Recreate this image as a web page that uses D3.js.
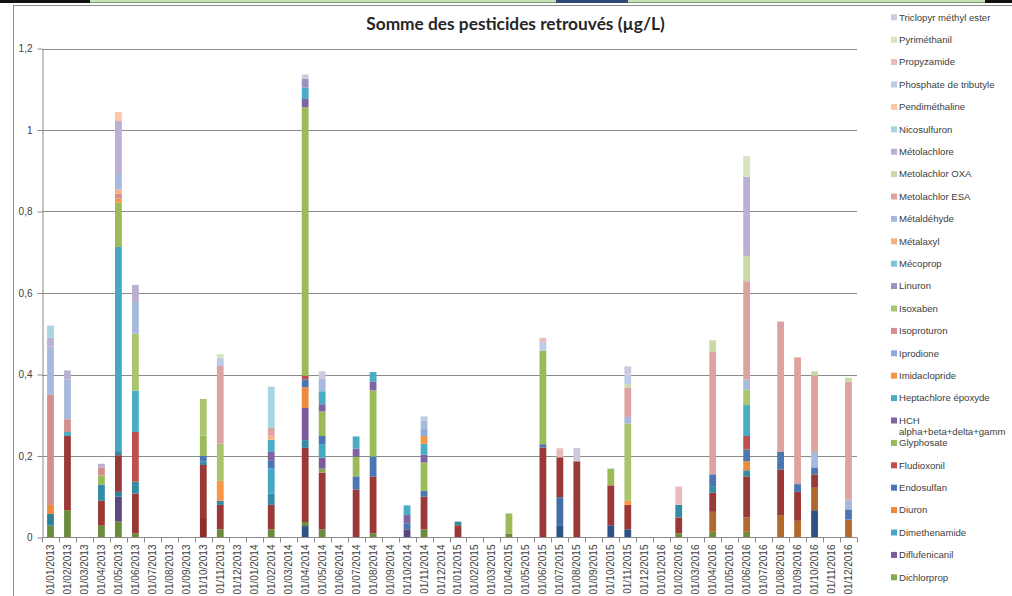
<!DOCTYPE html>
<html><head><meta charset="utf-8">
<script src="https://cdn.jsdelivr.net/npm/d3@7"></script>
<style>
html,body{margin:0;padding:0;background:#fff;overflow:hidden}
svg{display:block;font-family:Lato,"Liberation Sans",sans-serif}
</style></head><body>
<svg id="chart" width="1012" height="596"></svg>
<script>
const chartTitle = "Somme des pesticides retrouvés (µg/L)";
const categories = [
 "01/01/2013","01/02/2013","01/03/2013","01/04/2013","01/05/2013","01/06/2013","01/07/2013","01/08/2013","01/09/2013","01/10/2013","01/11/2013","01/12/2013",
 "01/01/2014","01/02/2014","01/03/2014","01/04/2014","01/05/2014","01/06/2014","01/07/2014","01/08/2014","01/09/2014","01/10/2014","01/11/2014","01/12/2014",
 "01/01/2015","01/02/2015","01/03/2015","01/04/2015","01/05/2015","01/06/2015","01/07/2015","01/08/2015","01/09/2015","01/10/2015","01/11/2015","01/12/2015",
 "01/01/2016","01/02/2016","01/03/2016","01/04/2016","01/05/2016","01/06/2016","01/07/2016","01/08/2016","01/09/2016","01/10/2016","01/11/2016","01/12/2016"];
// stacking order (bottom first); legend lists them in reverse
const seriesNames = [
 "2,4-D","2,4-MCPA","AMPA","Aclonifène","Atrazine","Azoxystrobine","Bentazone","Boscalid","Chlortoluron",
 "Dichlorprop","Diflufenicanil","Dimethenamide","Diuron","Endosulfan","Fludioxonil","Glyphosate",
 "HCH alpha+beta+delta+gamm","Heptachlore époxyde","Imidaclopride","Iprodione","Isoproturon","Isoxaben",
 "Linuron","Mécoprop","Métalaxyl","Métaldéhyde","Metolachlor ESA","Metolachlor OXA","Métolachlore",
 "Nicosulfuron","Pendiméthaline","Phosphate de tributyle","Propyzamide","Pyriméthanil","Triclopyr méthyl ester"];
const seriesColors = [
 "#2E5283","#4470A8","#6B8C3A","#5D477D","#2F8199","#B4692C","#8B2E2C","#9A3936","#338CA3",
 "#86A94C","#7A5C9C","#46A7C2","#EE8A3C","#4A77B4","#C0504D","#9BBB59",
 "#8064A2","#4BACC6","#F79646","#8EA9DB","#D48E8C","#A9C56E",
 "#A090BF","#7EC3D6","#F9B07F","#A7B9DD","#DDA3A2","#C9DAA6","#BBAFD2",
 "#A8D5E2","#FBC8A6","#BCCBE6","#E8BCBB","#D8E4C0","#CFC7DD"];
const yTicks = [0,0.2,0.4,0.6,0.8,1,1.2];
// [category index, series, value µg/L]
const measurements = [
 [0,"AMPA",0.029],[0,"Atrazine",0.029],[0,"Diuron",0.022],[0,"Isoproturon",0.27],[0,"Métaldéhyde",0.119],[0,"Métolachlore",0.021],[0,"Nicosulfuron",0.03],
 [1,"AMPA",0.067],[1,"Boscalid",0.182],[1,"Heptachlore époxyde",0.01],[1,"Isoproturon",0.031],[1,"Métaldéhyde",0.098],[1,"Métolachlore",0.022],
 [3,"AMPA",0.029],[3,"Boscalid",0.061],[3,"Chlortoluron",0.04],[3,"Glyphosate",0.022],[3,"Isoproturon",0.019],[3,"Métolachlore",0.01],
 [4,"AMPA",0.039],[4,"Aclonifène",0.061],[4,"Atrazine",0.012],[4,"Boscalid",0.09],[4,"Chlortoluron",0.01],[4,"Dimethenamide",0.501],[4,"Glyphosate",0.109],[4,"Imidaclopride",0.01],[4,"Isoproturon",0.012],[4,"Métalaxyl",0.01],[4,"Métaldéhyde",0.038],[4,"Métolachlore",0.13],[4,"Pendiméthaline",0.022],
 [5,"AMPA",0.01],[5,"Boscalid",0.098],[5,"Chlortoluron",0.029],[5,"Fludioxonil",0.122],[5,"Heptachlore époxyde",0.101],[5,"Isoxaben",0.14],[5,"Métaldéhyde",0.078],[5,"Métolachlore",0.042],
 [9,"Bentazone",0.05],[9,"Boscalid",0.128],[9,"Chlortoluron",0.009],[9,"Endosulfan",0.013],[9,"Glyphosate",0.05],[9,"Isoxaben",0.09],
 [10,"AMPA",0.02],[10,"Boscalid",0.06],[10,"Chlortoluron",0.01],[10,"Imidaclopride",0.049],[10,"Isoxaben",0.091],[10,"Metolachlor ESA",0.191],[10,"Phosphate de tributyle",0.019],[10,"Pyriméthanil",0.01],
 [13,"AMPA",0.02],[13,"Boscalid",0.06],[13,"Chlortoluron",0.028],[13,"Dimethenamide",0.062],[13,"Endosulfan",0.018],[13,"HCH alpha+beta+delta+gamm",0.022],[13,"Heptachlore époxyde",0.03],[13,"Métalaxyl",0.01],[13,"Metolachlor ESA",0.019],[13,"Nicosulfuron",0.101],
 [15,"2,4-D",0.028],[15,"AMPA",0.01],[15,"Boscalid",0.182],[15,"Chlortoluron",0.019],[15,"Diflufenicanil",0.079],[15,"Diuron",0.051],[15,"Endosulfan",0.019],[15,"Fludioxonil",0.009],[15,"Glyphosate",0.659],[15,"HCH alpha+beta+delta+gamm",0.02],[15,"Heptachlore époxyde",0.028],[15,"Linuron",0.022],[15,"Triclopyr méthyl ester",0.01],
 [16,"AMPA",0.02],[16,"Boscalid",0.139],[16,"Dichlorprop",0.01],[16,"Diflufenicanil",0.027],[16,"Dimethenamide",0.033],[16,"Endosulfan",0.02],[16,"Glyphosate",0.06],[16,"HCH alpha+beta+delta+gamm",0.018],[16,"Heptachlore époxyde",0.032],[16,"Métaldéhyde",0.031],[16,"Triclopyr méthyl ester",0.018],
 [18,"Boscalid",0.118],[18,"Endosulfan",0.032],[18,"Glyphosate",0.048],[18,"HCH alpha+beta+delta+gamm",0.02],[18,"Heptachlore époxyde",0.03],
 [19,"AMPA",0.01],[19,"Boscalid",0.14],[19,"Endosulfan",0.049],[19,"Glyphosate",0.162],[19,"HCH alpha+beta+delta+gamm",0.021],[19,"Heptachlore époxyde",0.024],
 [21,"Aclonifène",0.02],[21,"Endosulfan",0.015],[21,"HCH alpha+beta+delta+gamm",0.02],[21,"Heptachlore époxyde",0.024],
 [22,"AMPA",0.02],[22,"Boscalid",0.08],[22,"Endosulfan",0.014],[22,"Glyphosate",0.07],[22,"HCH alpha+beta+delta+gamm",0.019],[22,"Heptachlore époxyde",0.027],[22,"Imidaclopride",0.019],[22,"Iprodione",0.017],[22,"Métaldéhyde",0.02],[22,"Phosphate de tributyle",0.011],
 [24,"Boscalid",0.03],[24,"Chlortoluron",0.009],
 [27,"AMPA",0.01],[27,"Glyphosate",0.049],
 [29,"Boscalid",0.221],[29,"Endosulfan",0.008],[29,"Glyphosate",0.229],[29,"Phosphate de tributyle",0.022],[29,"Propyzamide",0.01],
 [30,"2,4-D",0.03],[30,"2,4-MCPA",0.069],[30,"Boscalid",0.098],[30,"Propyzamide",0.022],
 [31,"Boscalid",0.187],[31,"Triclopyr méthyl ester",0.033],
 [33,"2,4-D",0.03],[33,"Boscalid",0.098],[33,"Glyphosate",0.041],
 [34,"2,4-D",0.02],[34,"Boscalid",0.06],[34,"Imidaclopride",0.01],[34,"Isoxaben",0.19],[34,"Métaldéhyde",0.016],[34,"Metolachlor ESA",0.071],[34,"Metolachlor OXA",0.009],[34,"Phosphate de tributyle",0.024],[34,"Triclopyr méthyl ester",0.02],
 [37,"AMPA",0.01],[37,"Boscalid",0.039],[37,"Chlortoluron",0.031],[37,"Propyzamide",0.045],
 [39,"AMPA",0.014],[39,"Azoxystrobine",0.049],[39,"Boscalid",0.047],[39,"Chlortoluron",0.016],[39,"Endosulfan",0.029],[39,"Metolachlor ESA",0.30],[39,"Metolachlor OXA",0.029],
 [41,"AMPA",0.014],[41,"Azoxystrobine",0.035],[41,"Boscalid",0.101],[41,"Chlortoluron",0.015],[41,"Diuron",0.022],[41,"Endosulfan",0.029],[41,"Fludioxonil",0.033],[41,"Heptachlore époxyde",0.076],[41,"Isoxaben",0.038],[41,"Métaldéhyde",0.025],[41,"Metolachlor ESA",0.241],[41,"Metolachlor OXA",0.062],[41,"Métolachlore",0.194],[41,"Pyriméthanil",0.051],
 [43,"Azoxystrobine",0.055],[43,"Boscalid",0.112],[43,"Endosulfan",0.043],[43,"Metolachlor ESA",0.32],
 [44,"Azoxystrobine",0.041],[44,"Boscalid",0.071],[44,"Endosulfan",0.019],[44,"Metolachlor ESA",0.311],
 [45,"2,4-D",0.067],[45,"Azoxystrobine",0.055],[45,"Boscalid",0.033],[45,"Endosulfan",0.017],[45,"Métaldéhyde",0.038],[45,"Metolachlor ESA",0.187],[45,"Metolachlor OXA",0.011],
 [47,"Azoxystrobine",0.044],[47,"Endosulfan",0.025],[47,"Métaldéhyde",0.024],[47,"Metolachlor ESA",0.289],[47,"Metolachlor OXA",0.01]
];

const rows = categories.map(c => { const r = {category:c}; seriesNames.forEach(s => r[s] = 0); return r; });
measurements.forEach(([i,s,v]) => { rows[i][s] += v; });
const layers = d3.stack().keys(seriesNames)(rows);
const color = d3.scaleOrdinal().domain(seriesNames).range(seriesColors);

const W = 1012, H = 596;
const svg = d3.select("#chart");
const plot = {left:42, right:857, top:48.5, bottom:537.5};
const x = d3.scaleBand().domain(categories).range([plot.left, plot.right]).paddingInner(0.6).paddingOuter(0.3);
const y = d3.scaleLinear().domain([0,1.2]).range([plot.bottom, plot.top]);
const fr = d3.formatLocale({decimal:",",thousands:" ",grouping:[3],currency:["","€"]}).format("~g");

// window decorations (spreadsheet strip at top)
svg.append("rect").attr("x",0).attr("y",0).attr("width",W).attr("height",3).attr("fill","#111");
svg.append("rect").attr("x",90).attr("y",0).attr("width",895).attr("height",2.5).attr("fill","#c9dfb5");
svg.append("rect").attr("x",90).attr("y",2).attr("width",895).attr("height",1).attr("fill","#7fa35f");
svg.append("rect").attr("x",556).attr("y",0).attr("width",72).attr("height",3).attr("fill","#2b4a78");
// chart area border
svg.append("line").attr("x1",13.5).attr("x2",13.5).attr("y1",5).attr("y2",H).attr("stroke","#8c8c8c");
svg.append("line").attr("x1",13).attr("x2",W).attr("y1",5.5).attr("y2",5.5).attr("stroke","#8c8c8c");

// gridlines
svg.append("g").selectAll("line").data(yTicks.filter(t => t > 0)).join("line")
  .attr("x1",plot.left).attr("x2",plot.right)
  .attr("y1",d => Math.round(y(d))+0.5).attr("y2",d => Math.round(y(d))+0.5)
  .attr("stroke","#8a8a8a").attr("stroke-width",1);

// bars
svg.append("g").selectAll("g").data(layers).join("g")
  .attr("fill", d => color(d.key))
  .selectAll("rect").data(d => d.filter(p => p[1] - p[0] > 0)).join("rect")
  .attr("x", d => x(d.data.category))
  .attr("width", x.bandwidth())
  .attr("y", d => y(d[1]))
  .attr("height", d => y(d[0]) - y(d[1]));

// y axis
const yAxis = svg.append("g").attr("transform",`translate(${plot.left+0.5},0)`)
  .call(d3.axisLeft(y).tickValues(yTicks).tickFormat(fr).tickSize(5).tickPadding(5).tickSizeOuter(0));
yAxis.select(".domain").attr("stroke","#8a8a8a");
yAxis.selectAll(".tick line").attr("stroke","#8a8a8a");
yAxis.selectAll(".tick text").attr("fill","#404040").style("font-family","'Liberation Sans',sans-serif").style("font-size","10px");

// x axis
const xAxisG = svg.append("g").attr("transform",`translate(0,${plot.bottom})`);
xAxisG.append("line").attr("x1",plot.left).attr("x2",plot.right).attr("y1",0).attr("y2",0).attr("stroke","#8a8a8a");
const step = x.step();
xAxisG.selectAll("line.tk").data(d3.range(categories.length+1)).join("line").attr("class","tk")
  .attr("x1", i => Math.round(plot.left + i*step)+0.5).attr("x2", i => Math.round(plot.left + i*step)+0.5)
  .attr("y1",0).attr("y2",5).attr("stroke","#8a8a8a");
xAxisG.selectAll("text").data(categories).join("text")
  .attr("transform", d => `translate(${x(d)+x.bandwidth()/2+3.5},7) rotate(-90)`)
  .attr("text-anchor","end").attr("fill","#404040")
  .style("font-family","'Liberation Sans',sans-serif").style("font-size","10px")
  .text(d => d);

// title
svg.append("text").attr("x",515.5).attr("y",30).attr("text-anchor","middle")
  .attr("fill","#262626").style("font-weight","bold").style("font-size","17.3px")
  .style("font-family","Lato,'Liberation Sans',sans-serif").text(chartTitle);

// legend (reverse order, like the source); entries that fall below the window are not drawn
const legendTop = 17.3, legendStep = 22.4;
const legendNames = seriesNames.slice().reverse().filter((d,i) => legendTop + i*legendStep + 6 < H);
const lg = svg.append("g").selectAll("g").data(legendNames).join("g")
  .attr("transform",(d,i) => `translate(891,${legendTop + i*legendStep})`);
lg.append("rect").attr("x",0).attr("y",-3).attr("width",6).attr("height",6).attr("fill", d => color(d));
lg.each(function(d){
  const g = d3.select(this);
  const parts = d.startsWith("HCH ") ? ["HCH", d.slice(4)] : [d];
  parts.forEach((p,k) => g.append("text").attr("x",8).attr("y",3.3 + k*11).attr("fill","#404040")
    .style("font-family","'Liberation Sans',sans-serif").style("font-size","9.6px").text(p));
});
</script>
</body></html>
